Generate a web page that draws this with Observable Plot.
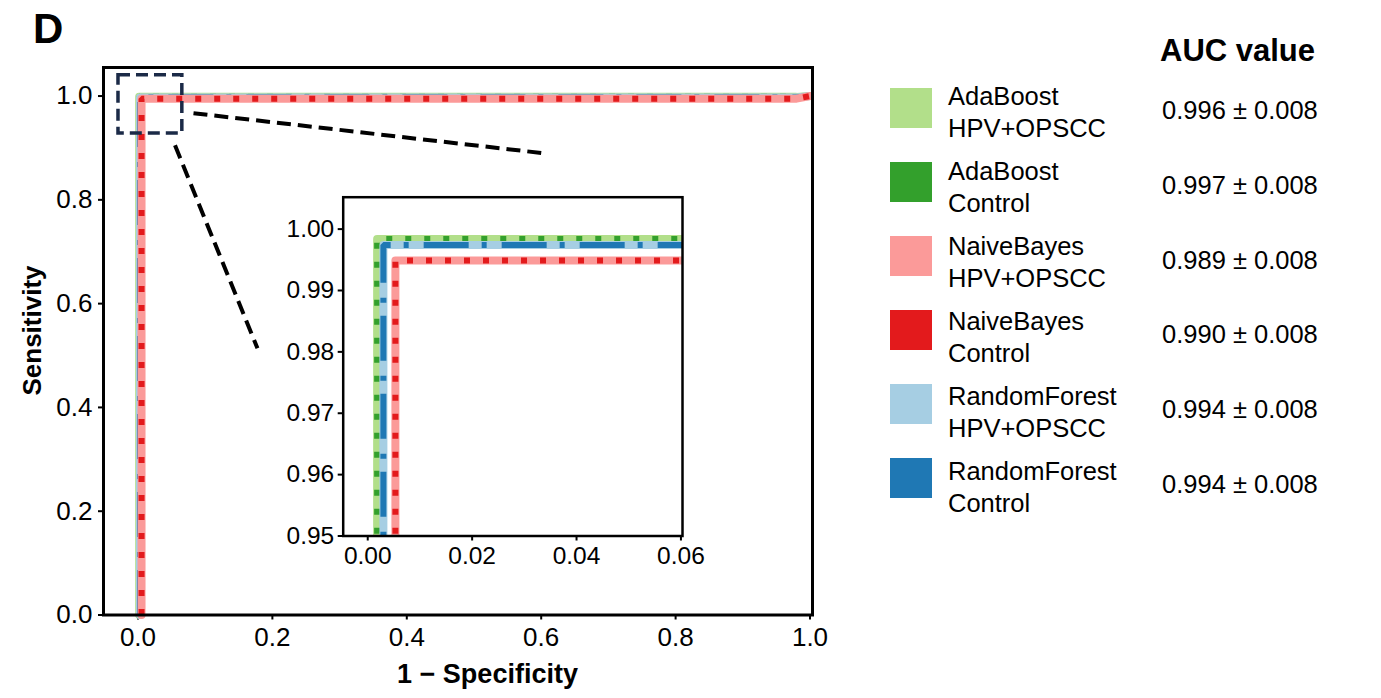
<!DOCTYPE html>
<html><head><meta charset="utf-8">
<script src="https://cdn.jsdelivr.net/npm/d3@7"></script>
<script src="https://cdn.jsdelivr.net/npm/@observablehq/plot@0.6"></script>
<style>
html,body{margin:0;padding:0;background:#fff;}
#root{position:relative;width:1381px;height:698px;overflow:hidden;font-family:"Liberation Sans",Arial,sans-serif;}
#root > *{position:absolute;}
</style></head><body><div id="root"></div>
<script>
// ---------- data ----------
const seriesNames = ["AdaBoost HPV+OPSCC","AdaBoost Control","NaiveBayes HPV+OPSCC","NaiveBayes Control","RandomForest HPV+OPSCC","RandomForest Control"];
const legendLine1 = ["AdaBoost","AdaBoost","NaiveBayes","NaiveBayes","RandomForest","RandomForest"];
const legendLine2 = ["HPV+OPSCC","Control","HPV+OPSCC","Control","HPV+OPSCC","Control"];
const aucLabels = ["0.996 ± 0.008","0.997 ± 0.008","0.989 ± 0.008","0.990 ± 0.008","0.994 ± 0.008","0.994 ± 0.008"];

// ROC curves: 1 − specificity (fpr) and sensitivity (tpr)
const fprAdaHPV  = [0.0018, 0.0018, 0.98, 1.0];
const tprAdaHPV  = [0.0, 0.9984, 0.9984, 1.0];
const fprAdaCtl  = [0.0018, 0.0018, 0.98, 1.0];
const tprAdaCtl  = [0.0, 0.9984, 0.9984, 1.0];
const fprNbHPV   = [0.0053, 0.0053, 0.98, 1.0];
const tprNbHPV   = [0.0, 0.9949, 0.9949, 1.0];
const fprNbCtl   = [0.0053, 0.0053, 0.98, 1.0];
const tprNbCtl   = [0.0, 0.9949, 0.9949, 1.0];
const fprRfHPV   = [0.0030, 0.0030, 0.98, 1.0];
const tprRfHPV   = [0.0, 0.9974, 0.9974, 1.0];
const fprRfCtl   = [0.0030, 0.0030, 0.98, 1.0];
const tprRfCtl   = [0.0, 0.9974, 0.9974, 1.0];

const mainTicksX = [0, 0.2, 0.4, 0.6, 0.8, 1.0];
const mainTicksY = [0, 0.2, 0.4, 0.6, 0.8, 1.0];
const insetTicksX = [0, 0.02, 0.04, 0.06];
const insetTicksY = [0.95, 0.96, 0.97, 0.98, 0.99, 1.00];

// zoom box and connector lines (data coordinates of main axes)
const zoomBoxX = [-0.029, 0.066];
const zoomBoxY = [0.928, 1.040];
const connX1 = [0.0826, 0.0551];
const connY1 = [0.967, 0.905];
const connX2 = [0.602, 0.1778];
const connY2 = [0.890, 0.514];

// ---------- styles ----------
const seriesColors = ["#b2df8a","#33a02c","#fb9a99","#e31a1c","#a6cee3","#1f78b4"];
const seriesDash = [null, "6,13", null, "6,13", null, "45,13,5,15"];
const seriesWidth = [8, 6, 8, 6, 8, 6];
const drawOrder = [0, 1, 4, 5, 2, 3];
const FONT = "'Liberation Sans', Arial, Helvetica, sans-serif";

const fprs = [fprAdaHPV, fprAdaCtl, fprNbHPV, fprNbCtl, fprRfHPV, fprRfCtl];
const tprs = [tprAdaHPV, tprAdaCtl, tprNbHPV, tprNbCtl, tprRfHPV, tprRfCtl];
const rows = seriesNames.map((s, i) => fprs[i].map((f, j) => ({series: s, fpr: f, tpr: tprs[i][j]})));

function curveMarks(clip) {
  return drawOrder.map(i => Plot.line(rows[i], {
    x: "fpr", y: "tpr",
    stroke: seriesColors[i],
    strokeWidth: seriesWidth[i],
    strokeDasharray: seriesDash[i] || undefined,
    strokeLinecap: seriesDash[i] ? "butt" : "round",
    strokeLinejoin: seriesDash[i] ? "miter" : "round",
    clip
  }));
}

const root = document.getElementById("root");

// ---------- main plot ----------
const main = Plot.plot({
  width: 850, height: 698,
  marginLeft: 103, marginRight: 38, marginTop: 67, marginBottom: 83.5,
  style: {fontFamily: FONT, fontSize: "26px", background: "transparent", overflow: "visible", color: "black"},
  x: {domain: [-0.0513, 1.0037]},
  y: {domain: [0, 1.055]},
  marks: [
    Plot.axisX({ticks: mainTicksX, tickFormat: d3.format(".1f"), tickSize: 5, tickPadding: 8, strokeWidth: 2, label: null, fontSize: 26}),
    Plot.axisY({ticks: mainTicksY, tickFormat: d3.format(".1f"), tickSize: 5, tickPadding: 6, strokeWidth: 2, label: null, fontSize: 26}),
    ...curveMarks(false),
    Plot.rect([0], {x1: () => zoomBoxX[0], x2: () => zoomBoxX[1], y1: () => zoomBoxY[0], y2: () => zoomBoxY[1],
      fill: "none", stroke: "#1b2a47", strokeWidth: 3.5, strokeDasharray: "12,6"}),
    Plot.link(connX1.map((_, i) => i), {x1: i => connX1[i], y1: i => connY1[i], x2: i => connX2[i], y2: i => connY2[i],
      stroke: "black", strokeWidth: 4, strokeDasharray: "14,7"}),
    Plot.frame({stroke: "black", strokeWidth: 3}),
    Plot.text(["1 − Specificity"], {frameAnchor: "bottom", textAnchor: "middle", lineAnchor: "middle", dx: 29.5, dy: 59, fontWeight: "bold", fontSize: 27, fill: "black"}),
    Plot.text(["Sensitivity"], {frameAnchor: "left", textAnchor: "middle", lineAnchor: "middle", rotate: -90, dx: -71, dy: -10.75, fontWeight: "bold", fontSize: 26, fill: "black"})
  ]
});
main.style.left = "0px"; main.style.top = "0px";
root.appendChild(main);

// ---------- inset ----------
const inset = Plot.plot({
  width: 442, height: 400,
  marginLeft: 72.7, marginRight: 30, marginTop: 16.7, marginBottom: 44.5,
  style: {fontFamily: FONT, fontSize: "24.5px", background: "transparent", overflow: "visible", color: "black"},
  x: {domain: [-0.0047, 0.0603]},
  y: {domain: [0.95, 1.0052]},
  marks: [
    Plot.frame({fill: "white", stroke: "none"}),
    Plot.axisX({ticks: insetTicksX, tickFormat: d3.format(".2f"), tickSize: 5, tickPadding: 6, strokeWidth: 2, label: null, fontSize: 24.5}),
    Plot.axisY({ticks: insetTicksY, tickFormat: d3.format(".2f"), tickSize: 5, tickPadding: 4, strokeWidth: 2, label: null, fontSize: 24.5}),
    ...curveMarks(true),
    Plot.frame({stroke: "black", strokeWidth: 2.5})
  ]
});
inset.style.left = "270px"; inset.style.top = "180px";
root.appendChild(inset);

// ---------- panel letter, legend ----------
const svg = d3.create("svg").attr("width", 1381).attr("height", 698)
  .style("left", "0px").style("top", "0px").style("font-family", FONT).style("pointer-events", "none");
svg.append("text").attr("x", 33).attr("y", 43).attr("font-size", 42).attr("font-weight", "bold").text("D");
svg.append("text").attr("x", 1160).attr("y", 61).attr("font-size", 31).attr("font-weight", "bold").text("AUC value");
seriesNames.forEach((s, i) => {
  svg.append("rect").attr("x", 890).attr("y", 88 + 74 * i).attr("width", 42).attr("height", 40).attr("fill", seriesColors[i]);
  svg.append("text").attr("x", 948).attr("y", 105 + 75 * i).attr("font-size", 25.5).text(legendLine1[i]);
  svg.append("text").attr("x", 948).attr("y", 137 + 75 * i).attr("font-size", 25.5).text(legendLine2[i]);
  svg.append("text").attr("x", 1162).attr("y", 119 + 74.8 * i).attr("font-size", 25.5).text(aucLabels[i]);
});
root.appendChild(svg.node());
</script>
</body></html>
